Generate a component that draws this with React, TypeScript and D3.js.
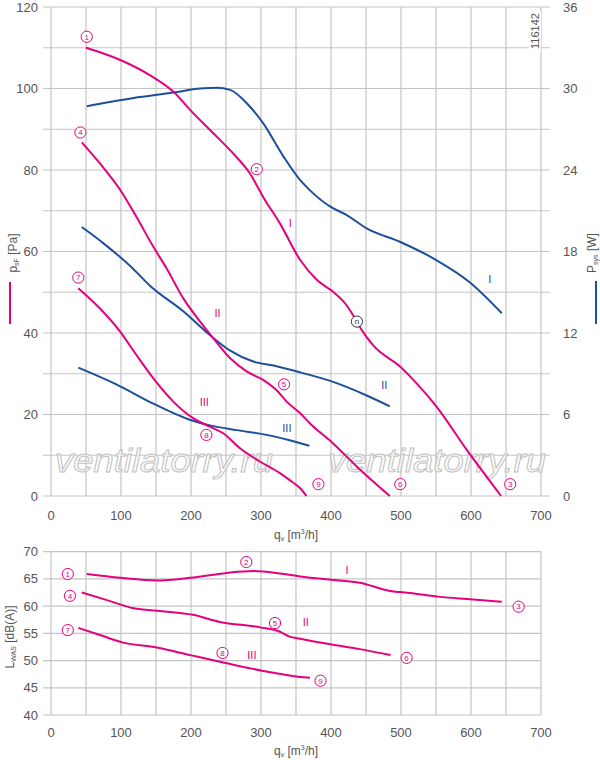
import React from "react";
import * as d3 from "d3";

// ---- Data (q in m³/h) ----
const pressureI: [number, number][] = [[50,110],[99,107],[141,103.3],[175,99.2],[199,94.7],[232,89],[260,84.1],[284,79.2],[303,73.4],[327,66.9],[356,57.9],[380,53],[403,50.1],[420,47.3],[430,44.8],[444,40.7],[460,37],[499,31.7],[522,27.7],[551,21.9],[594,11.3],[643,0]];
const pressureII: [number, number][] = [[44,86.8],[70,81.6],[99,75.1],[122,68.5],[146,61.2],[165,55.9],[189,48.5],[213,42.8],[232,38.7],[256,33.8],[280,30.5],[303,28.5],[322,26],[337,23.1],[356,20.3],[370,17.8],[403,12.9],[437,7.2],[484,0]];
const pressureIII: [number, number][] = [[39,51],[70,46],[99,40.3],[122,34.6],[146,28.9],[175,23.1],[203,19.1],[227,17],[246,15.4],[270,11.7],[299,8.4],[327,5.6],[341,3.9],[356,1.9],[365,0]];

const powerI: [number, number][] = [[51,28.7],[118,29.3],[175,29.7],[213,30.0],[237,30.06],[256,29.9],[280,28.9],[303,27.45],[332,25],[356,23.25],[370,22.5],[399,21.3],[422,20.7],[451,19.7],[499,18.7],[546,17.5],[599,15.7],[644,13.45]];
const powerII: [number, number][] = [[44,19.8],[75,18.6],[118,16.7],[141,15.5],[189,13.6],[227,11.85],[256,10.7],[289,9.9],[318,9.6],[356,9.1],[403,8.4],[451,7.4],[484,6.6]];
const powerIII: [number, number][] = [[39,9.45],[94,8.2],[146,6.8],[199,5.6],[227,5.2],[265,4.85],[308,4.5],[341,4.1],[369,3.7]];

const soundI: [number, number][] = [[51,65.9],[99,65.2],[151,64.7],[199,65.2],[251,66.1],[289,66.45],[327,66],[356,65.45],[403,64.8],[441,64.3],[484,62.8],[513,62.4],[556,61.7],[594,61.3],[644,60.8]];
const soundII: [number, number][] = [[44,62.5],[80,61.1],[118,59.6],[156,59.1],[203,58.4],[241,57.1],[299,56.1],[327,55.3],[341,54.4],[356,54],[403,52.9],[441,52.1],[485,51]];
const soundIII: [number, number][] = [[39,56],[70,54.7],[103,53.3],[151,52.4],[199,51],[251,49.5],[303,48.1],[356,47],[370,46.85]];

const xTicks = [0, 100, 200, 300, 400, 500, 600, 700];
const pTicks = [0, 20, 40, 60, 80, 100, 120];
const wTicks = [0, 6, 12, 18, 24, 30, 36];
const lTicks = [40, 45, 50, 55, 60, 65, 70];

const topCircles: [string, number, number][] = [["1",51,112.7],["2",294,80.2],["3",656,2.9],["4",42,89.2],["5",333,27.4],["6",499,2.9],["7",39,53.6],["8",222,15],["9",382,2.9]];
const topPinkRoman: [string, number, number][] = [["I",342,66.9],["II",238,45],["III",219,23.1]];
const topBlueRoman: [string, number, number][] = [["I",627,53.3],["II",476,27.2],["III",337,16.8]];
const nLabel: [string, number, number] = ["n", 437, 42.8];

const botCircles: [string, number, number][] = [["1",24,65.9],["2",279,68.1],["3",668,59.9],["4",27,61.9],["5",320,56.9],["6",508,50.5],["7",24,55.6],["8",245,51.4],["9",385,46.3]];
const botRoman: [string, number, number][] = [["I",423,66.6],["II",364,57],["III",287,51]];

const PINK = "#e5007d";
const BLUE = "#1d4f9b";
const GRID = "#c4c4c4";
const TXT = "#555";
const FONT = "'Liberation Sans', Arial, sans-serif";

export default function App() {
  const x = d3.scaleLinear().domain([0, 700]).range([51, 541]);
  const yP = d3.scaleLinear().domain([0, 120]).range([496, 7]);
  const yW = d3.scaleLinear().domain([0, 36]).range([496, 7]);
  const yL = d3.scaleLinear().domain([40, 70]).range([715, 551.7]);

  const lineP = d3.line<[number, number]>().x(d => x(d[0])).y(d => yP(d[1])).curve(d3.curveMonotoneX);
  const lineW = d3.line<[number, number]>().x(d => x(d[0])).y(d => yW(d[1])).curve(d3.curveMonotoneX);
  const lineL = d3.line<[number, number]>().x(d => x(d[0])).y(d => yL(d[1])).curve(d3.curveMonotoneX);

  const vGrid = d3.range(0, 701, 50);
  const hGridTop = d3.range(0, 121, 10);
  const hGridBot = d3.range(40, 71, 5);

  const circleLabel = (t: string, cx: number, cy: number, color: string, key: string) => (
    <g key={key}>
      <circle cx={cx} cy={cy} r={5.6} fill="#fff" stroke={color} strokeWidth={1} />
      <text x={cx} y={cy + 2.8} textAnchor="middle" fontSize={8} fill={color} fontFamily={FONT}>{t}</text>
    </g>
  );

  return (
    <svg width={600} height={760} style={{ position: "absolute", left: 0, top: 0, background: "#fff" }} fontFamily={FONT}>
      {/* Top chart grid */}
      {vGrid.map(v => <line key={"tv" + v} x1={x(v)} x2={x(v)} y1={yP(120)} y2={yP(0)} stroke={GRID} strokeWidth={1.2} />)}
      {hGridTop.map(v => <line key={"th" + v} x1={43} x2={550} y1={yP(v)} y2={yP(v)} stroke={GRID} strokeWidth={1.2} />)}
      {/* Bottom chart grid */}
      {vGrid.map(v => <line key={"bv" + v} x1={x(v)} x2={x(v)} y1={yL(70)} y2={yL(40)} stroke={GRID} strokeWidth={1.2} />)}
      {hGridBot.map(v => <line key={"bh" + v} x1={43} x2={541} y1={yL(v)} y2={yL(v)} stroke={GRID} strokeWidth={1.2} />)}

      {/* Watermarks */}
      {[55, 328].map(wx => (
        <text key={"wm" + wx} x={wx} y={472} fontSize={33} fontStyle="italic" fill="#fff" fillOpacity={0.7} stroke="#c2c2c2" strokeWidth={1} textLength={218} lengthAdjust="spacingAndGlyphs">ventilatorry.ru</text>
      ))}

      {/* Code */}
      <rect x={529} y={12} width={12} height={40} fill="#fff" />
      <text transform="translate(539,31) rotate(-90)" textAnchor="middle" fontSize={11} fill={TXT}>116142</text>

      {/* Top curves */}
      {[powerI, powerII, powerIII].map((d, i) => <path key={"pw" + i} d={lineW(d) || ""} fill="none" stroke={BLUE} strokeWidth={2} />)}
      {[pressureI, pressureII, pressureIII].map((d, i) => <path key={"pp" + i} d={lineP(d) || ""} fill="none" stroke={PINK} strokeWidth={2} />)}

      {/* Top labels */}
      {topCircles.map(([t, q, v]) => circleLabel(t, x(q), yP(v), PINK, "tc" + t))}
      {circleLabel(nLabel[0], x(nLabel[1]), yP(nLabel[2]), "#333", "nl")}
      {topPinkRoman.map(([t, q, v]) => <text key={"tpr" + t} x={x(q)} y={yP(v) + 4} textAnchor="middle" fontSize={11} fill={PINK}>{t}</text>)}
      {topBlueRoman.map(([t, q, v]) => <text key={"tbr" + t} x={x(q)} y={yP(v) + 4} textAnchor="middle" fontSize={11} fill={BLUE}>{t}</text>)}

      {/* Top axes labels */}
      {pTicks.map(v => <text key={"pt" + v} x={38} y={yP(v) + 4.5} textAnchor="end" fontSize={13} fill={TXT}>{v}</text>)}
      {wTicks.map(v => <text key={"wt" + v} x={563} y={yW(v) + 4.5} textAnchor="start" fontSize={13} fill={TXT}>{v}</text>)}
      {xTicks.map(v => <text key={"xt" + v} x={x(v)} y={520} textAnchor="middle" fontSize={13} fill={TXT}>{v}</text>)}
      <text x={296} y={539} textAnchor="middle" fontSize={12} fill={TXT}>q<tspan fontSize={7} dy={2}>v</tspan><tspan dy={-2}> [m</tspan><tspan fontSize={7} dy={-5}>3</tspan><tspan dy={5}>/h]</tspan></text>

      <text transform="translate(17,253) rotate(-90)" textAnchor="middle" fontSize={12} fill={TXT}>p<tspan fontSize={7} dy={2}>sF</tspan><tspan dy={-2}> [Pa]</tspan></text>
      <line x1={10} x2={10} y1={282} y2={324} stroke={PINK} strokeWidth={2} />
      <text transform="translate(596,253) rotate(-90)" textAnchor="middle" fontSize={12} fill={TXT}>P<tspan fontSize={7} dy={2}>sys</tspan><tspan dy={-2}> [W]</tspan></text>
      <line x1={596} x2={596} y1={281} y2={324} stroke={BLUE} strokeWidth={2} />

      {/* Bottom curves */}
      {[soundI, soundII, soundIII].map((d, i) => <path key={"sl" + i} d={lineL(d) || ""} fill="none" stroke={PINK} strokeWidth={2} />)}
      {botCircles.map(([t, q, v]) => circleLabel(t, x(q), yL(v), PINK, "bc" + t))}
      {botRoman.map(([t, q, v]) => <text key={"br" + t} x={x(q)} y={yL(v) + 4} textAnchor="middle" fontSize={11} fill={PINK}>{t}</text>)}

      {/* Bottom axes labels */}
      {lTicks.map(v => <text key={"lt" + v} x={38} y={yL(v) + 4.5} textAnchor="end" fontSize={13} fill={TXT}>{v}</text>)}
      {xTicks.map(v => <text key={"bxt" + v} x={x(v)} y={737} textAnchor="middle" fontSize={13} fill={TXT}>{v}</text>)}
      <text x={296} y={755} textAnchor="middle" fontSize={12} fill={TXT}>q<tspan fontSize={7} dy={2}>v</tspan><tspan dy={-2}> [m</tspan><tspan fontSize={7} dy={-5}>3</tspan><tspan dy={5}>/h]</tspan></text>
      <text transform="translate(14,637) rotate(-90)" textAnchor="middle" fontSize={12} fill={TXT}>L<tspan fontSize={7} dy={2}>WAS</tspan><tspan dy={-2}> [dB(A)]</tspan></text>
    </svg>
  );
}
